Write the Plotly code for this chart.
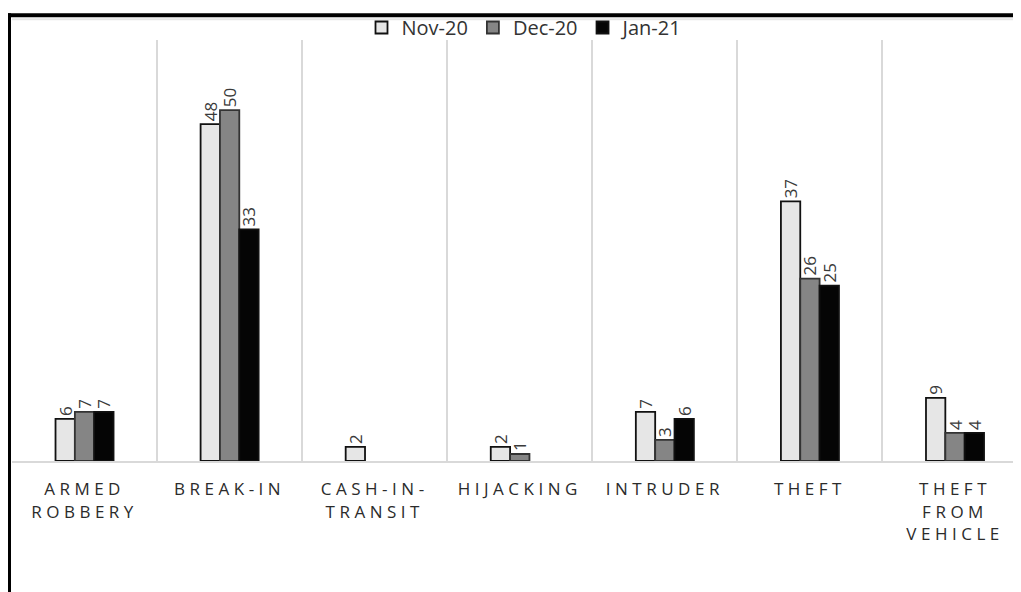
import plotly.graph_objects as go

categories = ["ARMED<br>ROBBERY", "BREAK-IN", "CASH-IN-<br>TRANSIT", "HIJACKING",
              "INTRUDER", "THEFT", "THEFT<br>FROM<br>VEHICLE"]
series_names = ["Nov-20", "Dec-20", "Jan-21"]
nov20 = [6, 48, 2, 2, 7, 37, 9]
dec20 = [7, 50, None, 1, 3, 26, 4]
jan21 = [7, 33, None, None, 6, 25, 4]

fills = ["#e6e6e6", "#858585", "#050505"]
outlines = ["#111111", "#333333", "#111111"]

# tick labels with wide letter spacing, as in the reference
SP = '<span style="letter-spacing:4.5px">'
tick_text = [SP + c.replace("<br>", "</span><br>" + SP) + "</span>" for c in categories]

fig = go.Figure()
for name, vals, fc, lc in zip(series_names, [nov20, dec20, jan21], fills, outlines):
    fig.add_trace(go.Bar(
        name=name, x=categories, y=vals,
        marker=dict(color=fc, line=dict(color=lc, width=1.8)),
        text=[("" if v is None else str(v)) for v in vals],
        textposition="outside", textangle=-90, constraintext="none",
        textfont=dict(family="Open Sans", size=17, color="#3a3a3a"),
        cliponaxis=False,
    ))

# layout geometry (figure pixels; page body adds an 8px offset)
W, H = 1021, 592
OFF = 8
L, T = 12 - OFF, 35 - OFF
BOT = 461 - OFF
B = H - BOT
plot_h = H - T - B
plot_w = W - L

def px_x(x):
    return (x - OFF - L) / plot_w

def px_y(y):
    return (BOT - (y - OFF)) / plot_h

fig.update_layout(
    width=W, height=H,
    margin=dict(l=L, r=0, t=T, b=B, pad=0),
    paper_bgcolor="white", plot_bgcolor="white",
    barmode="group", bargap=0.6, bargroupgap=0.0,
    font=dict(family="Open Sans", color="#404040"),
    legend=dict(orientation="h", x=px_x(525), xanchor="center", y=px_y(22), yanchor="middle",
                font=dict(size=20, color="#333333"), traceorder="normal",
                itemwidth=30, bgcolor="rgba(0,0,0,0)"),
    xaxis=dict(type="category", range=[-0.5, 6.51], tickson="boundaries",
               tickmode="array", tickvals=categories, ticktext=tick_text,
               showgrid=True, gridcolor="#d9d9d9", gridwidth=1.5,
               showline=True, linecolor="#d9d9d9", linewidth=2,
               ticks="", ticklen=0, ticklabelstandoff=12,
               tickfont=dict(size=17, color="#2b2b2b"), tickangle=0,
               fixedrange=True),
    yaxis=dict(range=[0, 60], showgrid=False, showticklabels=False, zeroline=False,
               showline=False, ticks="", fixedrange=True),
    showlegend=True,
    shapes=[
        dict(type="line", xref="paper", yref="paper", x0=px_x(8), x1=px_x(1040),
             y0=px_y(10), y1=px_y(10), line=dict(color="black", width=4)),
        dict(type="line", xref="paper", yref="paper", x0=px_x(9), x1=px_x(9),
             y0=px_y(8), y1=px_y(620), line=dict(color="black", width=4)),
        dict(type="line", xref="paper", yref="paper", x0=px_x(12), x1=px_x(1040),
             y0=px_y(14), y1=px_y(14), line=dict(color="#e6e6e6", width=2)),
    ],
)

fig.write_html("out.html")
